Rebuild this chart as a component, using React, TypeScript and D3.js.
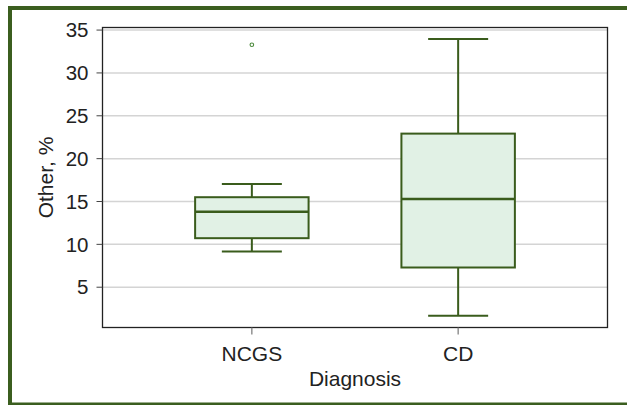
import React from 'react';
import * as d3 from 'd3';

const categories = ['NCGS', 'CD'];
const whiskerLow = [9.16, 1.67];
const q1 = [10.72, 7.3];
const medians = [13.79, 15.3];
const q3 = [15.5, 22.92];
const whiskerHigh = [17.05, 33.95];
const outliers = [{ cat: 'NCGS', value: 33.29 }];
const yTicks = [5, 10, 15, 20, 25, 30, 35];

const W = 627;
const H = 405;
const frameColor = '#3b5e1f';
const boxStroke = '#3a5c1c';
const boxFill = '#e1f1e5';
const font = '"Liberation Sans", Arial, Helvetica, sans-serif';

export default function App() {
  const plot = { left: 102.5, right: 607.5, top: 27.5, bottom: 327.5 };

  const x = d3.scalePoint<string>()
    .domain(categories)
    .range([plot.left, plot.right])
    .padding(0.724);
  const y = d3.scaleLinear().domain([0.3, 35.3]).range([plot.bottom, plot.top]);

  const step = x.step();
  const boxW = step * 0.55;
  const capW = 60;

  return (
    <svg width={W} height={H} style={{ position: 'absolute', left: 0, top: 0 }} fontFamily={font}>
      <rect x={0} y={0} width={W} height={H} fill="#fff" />
      {/* frame: left, top, bottom */}
      <rect x={8} y={6} width={4} height={H - 6} fill={frameColor} />
      <rect x={8} y={6} width={W - 8} height={4} fill={frameColor} />
      <rect x={8} y={402.5} width={W - 8} height={3} fill={frameColor} />

      {/* grid */}
      {yTicks.map(t => (
        <line key={'g' + t} x1={plot.left} x2={plot.right} y1={y(t)} y2={y(t)}
          stroke="#d4d4d4" strokeWidth={1.5} />
      ))}

      {/* plot border */}
      <rect x={plot.left} y={plot.top} width={plot.right - plot.left} height={plot.bottom - plot.top}
        fill="none" stroke="#222" strokeWidth={1.3} />

      {/* y ticks */}
      {yTicks.map(t => (
        <g key={'t' + t}>
          <line x1={plot.left - 6} x2={plot.left} y1={y(t)} y2={y(t)} stroke="#444" strokeWidth={1} />
          <text x={plot.left - 14} y={y(t)} dy="0.35em" textAnchor="end" fontSize={20.5} fill="#222">{t}</text>
        </g>
      ))}

      {/* x ticks */}
      {categories.map(c => (
        <g key={'x' + c}>
          <line x1={x(c)} x2={x(c)} y1={plot.bottom} y2={plot.bottom + 7} stroke="#777" strokeWidth={1.2} />
          <text x={x(c)} y={361} textAnchor="middle" fontSize={21} fill="#222">{c}</text>
        </g>
      ))}

      {/* axis titles */}
      <text x={(plot.left + plot.right) / 2} y={385.5} textAnchor="middle" fontSize={21} fill="#222">Diagnosis</text>
      <text transform={`translate(53,${(plot.top + plot.bottom) / 2}) rotate(-90)`} textAnchor="middle"
        fontSize={21} fill="#222">Other, %</text>

      {/* boxes */}
      {categories.map((c, i) => {
        const cx = x(c) as number;
        return (
          <g key={'b' + c} stroke={boxStroke} strokeWidth={2}>
            <line x1={cx} x2={cx} y1={y(whiskerHigh[i])} y2={y(q3[i])} />
            <line x1={cx} x2={cx} y1={y(q1[i])} y2={y(whiskerLow[i])} />
            <line x1={cx - capW / 2} x2={cx + capW / 2} y1={y(whiskerHigh[i])} y2={y(whiskerHigh[i])} />
            <line x1={cx - capW / 2} x2={cx + capW / 2} y1={y(whiskerLow[i])} y2={y(whiskerLow[i])} />
            <rect x={cx - boxW / 2} y={y(q3[i])} width={boxW} height={y(q1[i]) - y(q3[i])} fill={boxFill} />
            <line x1={cx - boxW / 2} x2={cx + boxW / 2} y1={y(medians[i])} y2={y(medians[i])} strokeWidth={2.5} />
          </g>
        );
      })}

      {/* outliers */}
      {outliers.map((o, i) => (
        <circle key={'o' + i} cx={x(o.cat)} cy={y(o.value)} r={1.8} fill="none" stroke="#4c8a3c" strokeWidth={1.1} />
      ))}
    </svg>
  );
}
